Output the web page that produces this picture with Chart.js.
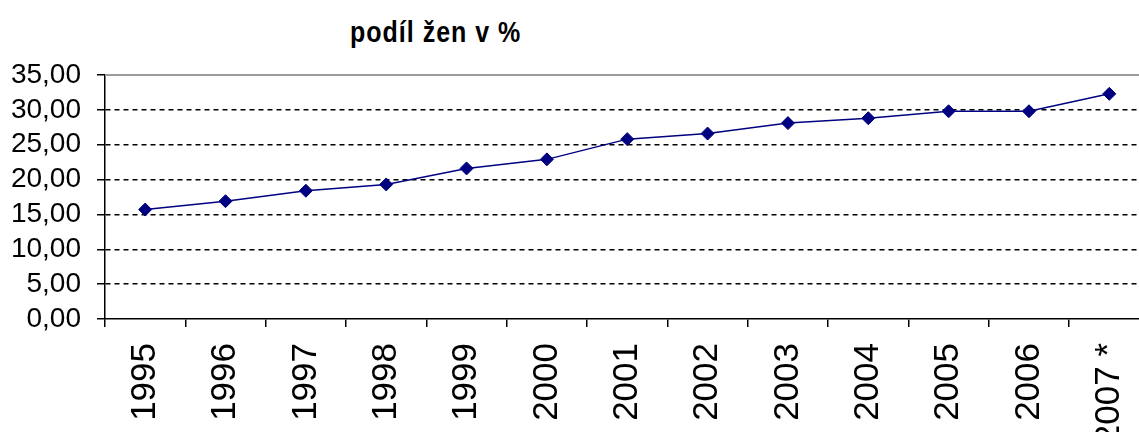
<!DOCTYPE html>
<html lang="cs">
<head>
<meta charset="UTF-8">
<title>podíl žen v %</title>
<script src="https://cdn.jsdelivr.net/npm/chart.js@4/dist/chart.umd.min.js"></script>
<style>
*{margin:0;padding:0;box-sizing:border-box}
body{background:#fff;width:1139px;height:432px;overflow:hidden;position:relative}
.ttl{position:absolute;left:350px;top:16px;font-family:"Liberation Sans",Arial,sans-serif;font-weight:bold;font-size:25px;letter-spacing:1px;color:#000;transform:scaleY(1.15);transform-origin:left top}
#c{position:absolute;left:0;top:0}
</style>
</head>
<body>
<div class="ttl">podíl žen v %</div>
<canvas id="c" width="1157" height="432"></canvas>
<script>
// data
var years = ["1995","1996","1997","1998","1999","2000","2001","2002","2003","2004","2005","2006","2007 *"];
var shares = [15.7, 16.9, 18.4, 19.3, 21.6, 22.9, 25.8, 26.6, 28.1, 28.8, 29.8, 29.8, 32.3];
var yTicks = [0, 5, 10, 15, 20, 25, 30, 35];

var font = "'Liberation Sans', Arial, sans-serif";

// grey top frame line of the plot area
var frame = {
  id: "frame",
  afterDraw: function(chart){
    var a = chart.chartArea, c = chart.ctx;
    c.save();
    c.strokeStyle = "#9a9a9a";
    c.lineWidth = 2;
    c.beginPath();
    c.moveTo(a.left, a.top);
    c.lineTo(chart.width, a.top);
    c.stroke();
    c.restore();
  }
};

new Chart(document.getElementById("c"), {
  type: "line",
  data: {
    labels: years,
    datasets: [{
      data: shares,
      borderColor: "#000080",
      backgroundColor: "#000080",
      borderWidth: 1.5,
      pointStyle: "rectRot",
      pointRadius: 6.5,
      pointBorderWidth: 1,
      tension: 0,
      fill: false
    }]
  },
  options: {
    responsive: false,
    animation: false,
    devicePixelRatio: 1,
    layout: { padding: { top: 75, right: 2, left: 0, bottom: 0 } },
    plugins: { legend: { display: false }, tooltip: { enabled: false }, title: { display: false } },
    scales: {
      x: {
        offset: true,
        grid: { display: true, drawOnChartArea: false, drawTicks: true, tickLength: 8, offset: true, color: "#000", lineWidth: 1.5 },
        border: { display: true, color: "#000", width: 1.5 },
        ticks: {
          autoSkip: false, maxRotation: 90, minRotation: 90, padding: 16,
          color: "#000", font: { family: font, size: 35 }
        },
        afterFit: function(s){ s.height = 113; s.paddingLeft = 0; s.paddingRight = 0; }
      },
      y: {
        min: 0, max: 35,
        afterBuildTicks: function(s){ s.ticks = yTicks.map(function(v){ return { value: v }; }); },
        grid: {
          drawTicks: true, tickLength: 8, tickColor: "#000", lineWidth: 1.5,
          color: function(ctx){
            if (!ctx.tick) return "#000";
            if (ctx.tick.value === 0 || ctx.tick.value === 35) return "rgba(0,0,0,0)";
            return "#000";
          }
        },
        border: { display: true, color: "#000", width: 1.5, dash: [5, 4] },
        ticks: {
          autoSkip: false, padding: 16, color: "#000", font: { family: font, size: 28 },
          callback: function(v){ return Number(v).toFixed(2).replace(".", ","); }
        },
        afterFit: function(s){ s.width = 105; s.paddingTop = 0; s.paddingBottom = 0; }
      }
    }
  },
  plugins: [frame]
});
</script>
</body>
</html>
